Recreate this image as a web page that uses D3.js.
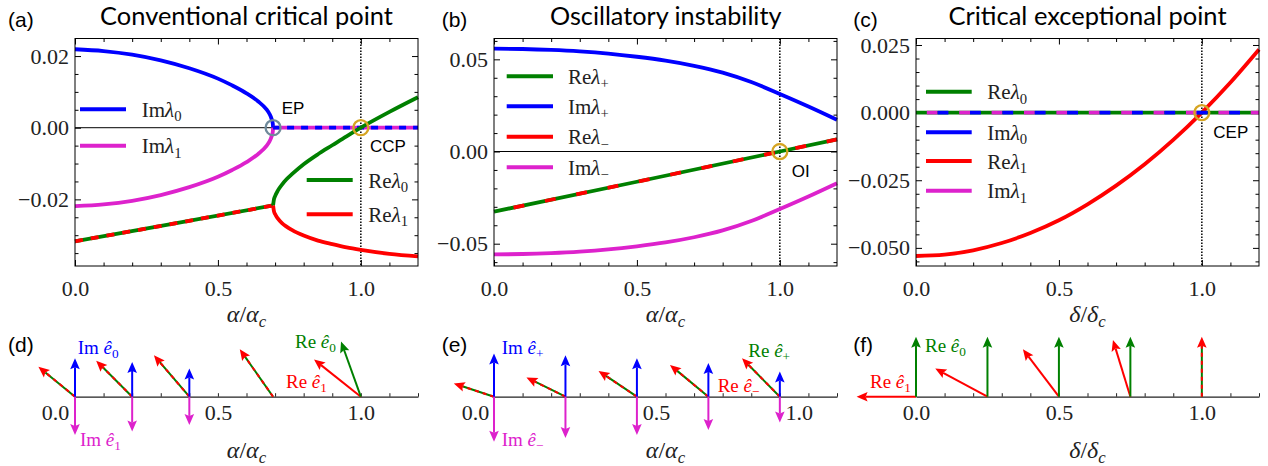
<!DOCTYPE html>
<html><head><meta charset="utf-8">
<script src="https://cdn.jsdelivr.net/npm/d3@7"></script>
<style>body{margin:0;background:#fff}svg{display:block}
.serif{font-family:"Liberation Serif","DejaVu Serif",serif}
.sans{font-family:"Liberation Sans",Arial,sans-serif}
.ttl{font-family:Lato,"Open Sans",sans-serif}
</style>
</head><body>
<svg id="c" width="1268" height="466"></svg>
<script>
// ---------------- DATA ----------------
const xMajorTicks = [0, 0.5, 1.0];
const xTickLabels = ["0.0", "0.5", "1.0"];
const xMinorTicks = [0.1, 0.2, 0.3, 0.4, 0.6, 0.7, 0.8, 0.9, 1.1];
const bottomTicks = [0, 0.1, 0.2, 0.3, 0.4, 0.5, 0.6, 0.7, 0.8, 0.9, 1.0, 1.1, 1.2];

// (a) conventional critical point
const aYTicks = [-0.02, 0, 0.02];
const aYTickLabels = ["\u22120.02", "0.00", "0.02"];
const aYMinor = [-0.035, -0.03, -0.025, -0.015, -0.01, -0.005, 0.005, 0.01, 0.015];
const aImAlpha = [0, 0.1, 0.2, 0.3, 0.4, 0.5, 0.55, 0.6, 0.64, 0.67, 0.68, 0.688, 0.692, 0.693];
const aImLam0 = [0.0219, 0.0214, 0.0204, 0.0188, 0.0166, 0.0137, 0.0118, 0.0096, 0.0074, 0.0051, 0.0039, 0.0024, 0.0011, 0.0];
const aImLam1 = [-0.0219, -0.0214, -0.0204, -0.0188, -0.0166, -0.0137, -0.0118, -0.0096, -0.0074, -0.0051, -0.0039, -0.0024, -0.0011, 0.0];
const aImZeroAlpha = [0.693, 1.2];
const aImZero = [0, 0];
const aReMergedAlpha = [0, 0.35, 0.693];
const aReMerged = [-0.0317, -0.0267, -0.0217];
const aReSplitAlpha = [0.693, 0.696, 0.70, 0.71, 0.725, 0.74, 0.76, 0.8, 0.85, 0.9, 0.95, 1.0, 1.1, 1.2];
const aReLam0 = [-0.0217, -0.0200, -0.0191, -0.0175, -0.0158, -0.0144, -0.0129, -0.0102, -0.0074, -0.0049, -0.0024, 0.0, 0.0044, 0.0085];
const aReLam1 = [-0.0217, -0.0233, -0.0241, -0.0254, -0.0267, -0.0276, -0.0286, -0.0301, -0.0315, -0.0325, -0.0334, -0.0341, -0.0352, -0.0359];
const aEP = 0.693, aCCP = 1.0;

// (b) oscillatory instability
const bYTicks = [-0.05, 0, 0.05];
const bYTickLabels = ["\u22120.05", "0.00", "0.05"];
const bYMinor = [-0.06, -0.04, -0.03, -0.02, -0.01, 0.01, 0.02, 0.03, 0.04, 0.06];
const bAlpha = [0, 0.1, 0.2, 0.3, 0.4, 0.5, 0.6, 0.7, 0.8, 0.9, 1.0, 1.1, 1.2];
const bImPlus = [0.0558, 0.0556, 0.0551, 0.0543, 0.0531, 0.0514, 0.0493, 0.0465, 0.0428, 0.0377, 0.0312, 0.0244, 0.0172];
const bImMinus = [-0.0558, -0.0556, -0.0551, -0.0543, -0.0531, -0.0514, -0.0493, -0.0465, -0.0428, -0.0377, -0.0312, -0.0244, -0.0172];
const bReAlpha = [0, 0.5, 1.0, 1.2];
const bRe = [-0.0326, -0.0164, 0.0, 0.0066];
const bOI = 1.0;

// (c) critical exceptional point
const cYTicks = [-0.05, -0.025, 0, 0.025];
const cYTickLabels = ["\u22120.050", "\u22120.025", "0.000", "0.025"];
const cYMinor = [-0.055, -0.045, -0.04, -0.035, -0.03, -0.02, -0.015, -0.01, -0.005, 0.005, 0.01, 0.015, 0.02];
const cDelta = [0, 0.1, 0.2, 0.3, 0.4, 0.5, 0.6, 0.7, 0.8, 0.9, 1.0, 1.1, 1.2];
const cReLam1 = [-0.0530, -0.0525, -0.0509, -0.0482, -0.0445, -0.0398, -0.0339, -0.0270, -0.0191, -0.0101, 0.0, 0.0111, 0.0233];
const cZeroDelta = [0, 1.2];
const cZero = [0, 0];
const cCEP = 1.0;

// (d) eigenvectors, conventional critical point
const dAlpha = [0, 0.2, 0.4, 0.693, 1.0];
const dReE0 = [[-0.61, 0.50], [-0.60, 0.60], [-0.59, 0.69], [-0.555, 0.79], [-0.33, 0.92]];
const dReE1 = [[-0.61, 0.50], [-0.60, 0.60], [-0.59, 0.69], [-0.555, 0.79], [-0.78, 0.62]];
const dImE0 = [0.64, 0.58, 0.47, 0, 0];
const dImE1 = [-0.64, -0.58, -0.47, 0, 0];
const dTickShift = [-20, 0, 0];

// (e) eigenvectors, oscillatory instability
const eAlpha = [0, 0.25, 0.5, 0.75, 1.0];
const eReEPlus = [[-0.67, 0.22], [-0.65, 0.32], [-0.64, 0.43], [-0.64, 0.53], [-0.63, 0.64]];
const eReEMinus = [[-0.67, 0.22], [-0.65, 0.32], [-0.64, 0.43], [-0.64, 0.53], [-0.63, 0.64]];
const eImEPlus = [0.72, 0.69, 0.64, 0.56, 0.42];
const eImEMinus = [-0.75, -0.69, -0.64, -0.555, -0.43];
const eTickShift = [-19, 19, 19];

// (f) eigenvectors, critical exceptional point
const fDelta = [0, 0.25, 0.5, 0.75, 1.0];
const fReE0 = [[0, 1], [0, 1], [0, 1], [0, 1], [0, 1]];
const fReE1 = [[-0.99, 0], [-0.87, 0.47], [-0.60, 0.79], [-0.29, 0.945], [0, 1]];
const fTickShift = [0, 0, 0];

// ---------------- STYLE ----------------
const COL = {green: "#008000", red: "#ff0000", blue: "#0000ff", mag: "#dd22cc", ep: "#6f8a9b", gold: "#d6a522"};
const LW = 3.8;
const TOP = 38.5, BOT = 266, AXY = 396.7;

const svg = d3.select("#c");

function fitText(t, target) {
  const w = t.node().getComputedTextLength();
  const fs = parseFloat(t.style("font-size"));
  t.style("font-size", (fs * target / w) + "px");
}

function panelLabel(txt, x, y) {
  svg.append("text").attr("class", "sans").attr("x", x).attr("y", y)
    .style("font-size", "21px").attr("fill", "#000").text(txt);
}

function lamLabel(g, x, y, pre, sub) {
  const fs = 21;
  const t = g.append("text").attr("class", "serif").attr("x", x).attr("y", y)
    .style("font-size", fs + "px").attr("fill", "#222");
  t.append("tspan").text(pre);
  t.append("tspan").style("font-style", "italic").text("\u03bb");
  t.append("tspan").style("font-size", (fs * 0.7) + "px").attr("dy", fs * 0.22).text(sub);
}

function vecLabel(g, x, y, pre, sub, color) {
  const fs = 19;
  const t = g.append("text").attr("class", "serif").attr("x", x).attr("y", y)
    .style("font-size", fs + "px").attr("fill", color);
  t.append("tspan").text(pre + " ");
  t.append("tspan").style("font-style", "italic").text("\u00ea");
  t.append("tspan").style("font-size", (fs * 0.7) + "px").attr("dy", fs * 0.22).text(sub);
}

function xLabel(g, cx, y, sym) {
  const fs = 24;
  const t = g.append("text").attr("class", "serif").attr("x", cx).attr("y", y)
    .style("font-size", fs + "px").attr("text-anchor", "middle").attr("fill", "#222");
  t.append("tspan").style("font-style", "italic").text(sym);
  t.append("tspan").text("/");
  t.append("tspan").style("font-style", "italic").text(sym);
  t.append("tspan").style("font-style", "italic").style("font-size", (fs * 0.7) + "px").attr("dy", fs * 0.22).text("c");
}

function styleAxis(sel) {
  sel.attr("font-family", null);
  sel.select(".domain").remove();
  sel.selectAll("line").attr("stroke", "#000").attr("stroke-width", 1);
  sel.selectAll("text").attr("class", "serif").style("font-size", "22px").attr("fill", "#222");
}

function topPanel(cfg) {
  const x = d3.scaleLinear().domain([0, 1.2]).range([cfg.left, cfg.right]);
  const y = d3.scaleLinear().domain(cfg.yDomain).range([BOT, TOP]);
  const g = svg.append("g");
  const mk = (axis, tr) => g.append("g").attr("transform", tr).call(axis).call(styleAxis);
  mk(d3.axisBottom(x).tickValues(xMinorTicks).tickSize(-3.5).tickFormat(""), `translate(0,${BOT})`);
  mk(d3.axisBottom(x).tickValues(xMajorTicks).tickSize(-6).tickPadding(14).tickFormat((d, i) => xTickLabels[i]), `translate(0,${BOT})`);
  mk(d3.axisTop(x).tickValues(xMinorTicks).tickSize(-3.5).tickFormat(""), `translate(0,${TOP})`);
  mk(d3.axisTop(x).tickValues(xMajorTicks).tickSize(-6).tickFormat(""), `translate(0,${TOP})`);
  mk(d3.axisLeft(y).tickValues(cfg.yMinor).tickSize(-3.5).tickFormat(""), `translate(${cfg.left},0)`);
  mk(d3.axisLeft(y).tickValues(cfg.yTicks).tickSize(-6).tickPadding(6).tickFormat((d, i) => cfg.yTickLabels[i]), `translate(${cfg.left},0)`);
  mk(d3.axisRight(y).tickValues(cfg.yMinor).tickSize(-3.5).tickFormat(""), `translate(${cfg.right},0)`);
  mk(d3.axisRight(y).tickValues(cfg.yTicks).tickSize(-6).tickFormat(""), `translate(${cfg.right},0)`);
  g.append("line").attr("x1", x(1.0)).attr("x2", x(1.0)).attr("y1", TOP).attr("y2", BOT)
    .attr("stroke", "#000").attr("stroke-width", 1.5).attr("stroke-dasharray", "1.5 1.5");
  const line = (xs, ys) => d3.line().x((d, i) => x(xs[i])).y((d, i) => y(ys[i])).curve(d3.curveMonotoneX)(xs);
  const path = (xs, ys, color, dash, offset) => {
    const p = g.append("path").attr("d", line(xs, ys)).attr("fill", "none").attr("stroke", color)
      .attr("stroke-width", LW);
    if (dash) p.attr("stroke-dasharray", dash).attr("stroke-dashoffset", offset || 0);
    return p;
  };
  const frame = () => g.append("rect").attr("x", cfg.left).attr("y", TOP).attr("width", cfg.right - cfg.left)
    .attr("height", BOT - TOP).attr("fill", "none").attr("stroke", "#000").attr("stroke-width", 1);
  const circle = (xv, color) => g.append("circle").attr("cx", x(xv)).attr("cy", y(0)).attr("r", 7.5)
    .attr("fill", "none").attr("stroke", color).attr("stroke-width", 2.3);
  const legLine = (x1, x2, yy, color) => g.append("line").attr("x1", x1).attr("x2", x2).attr("y1", yy).attr("y2", yy)
    .attr("stroke", color).attr("stroke-width", 4);
  const note = (xx, yy, txt) => g.append("text").attr("class", "sans").attr("x", xx).attr("y", yy)
    .style("font-size", "17px").attr("fill", "#000").text(txt);
  return {x, y, g, path, frame, circle, legLine, note};
}

function title(txt, cx, target) {
  const t = svg.append("text").attr("class", "ttl").attr("x", cx).attr("y", 25).attr("text-anchor", "middle")
    .style("font-size", "25px").attr("fill", "#000").text(txt);
  fitText(t, target);
}

// ---------------- TOP PANELS ----------------
// (a)
{
  const P = topPanel({left: 75, right: 418, yDomain: [-0.0386, 0.0249], yTicks: aYTicks, yTickLabels: aYTickLabels, yMinor: aYMinor});
  const {x, y, g} = P;
  g.append("line").attr("x1", x(0)).attr("x2", x(aEP)).attr("y1", y(0)).attr("y2", y(0)).attr("stroke", "#000").attr("stroke-width", 1);
  P.path(aImAlpha, aImLam0, COL.blue);
  P.path(aImAlpha, aImLam1, COL.mag);
  P.path(aImZeroAlpha, aImZero, COL.mag);
  P.path(aImZeroAlpha, aImZero, COL.blue, "7 7", 0);
  P.path(aReMergedAlpha, aReMerged, COL.green);
  P.path(aReMergedAlpha, aReMerged, COL.red, "8 8", 0);
  P.path(aReSplitAlpha, aReLam0, COL.green);
  P.path(aReSplitAlpha, aReLam1, COL.red);
  P.circle(aEP, COL.ep);
  P.circle(aCCP, COL.gold);
  P.frame();
  P.legLine(80, 126, 109.3, COL.blue); lamLabel(g, 141.7, 116.8, "Im", "0");
  P.legLine(80, 126, 145.7, COL.mag); lamLabel(g, 141.7, 153.2, "Im", "1");
  P.legLine(306.7, 352.7, 180, COL.green); lamLabel(g, 368.3, 187.5, "Re", "0");
  P.legLine(306.7, 352.7, 214.3, COL.red); lamLabel(g, 368.3, 221.8, "Re", "1");
  P.note(281.7, 113.5, "EP");
  P.note(370, 151.7, "CCP");
  xLabel(g, 246.5, 322, "\u03b1");
  title("Conventional critical point", 246.5, 293);
  panelLabel("(a)", 8, 27);
}
// (b)
{
  const P = topPanel({left: 494, right: 837, yDomain: [-0.0621, 0.0613], yTicks: bYTicks, yTickLabels: bYTickLabels, yMinor: bYMinor});
  const {x, y, g} = P;
  g.append("line").attr("x1", x(0)).attr("x2", x(1.2)).attr("y1", y(0)).attr("y2", y(0)).attr("stroke", "#000").attr("stroke-width", 1);
  P.path(bAlpha, bImPlus, COL.blue);
  P.path(bAlpha, bImMinus, COL.mag);
  P.path(bReAlpha, bRe, COL.green);
  P.path(bReAlpha, bRe, COL.red, "11 21", -20);
  P.circle(bOI, COL.gold);
  P.frame();
  P.legLine(506.7, 553, 76.3, COL.green); lamLabel(g, 568, 83.8, "Re", "+");
  P.legLine(506.7, 553, 106.3, COL.blue); lamLabel(g, 568, 113.8, "Im", "+");
  P.legLine(506.7, 553, 136.7, COL.red); lamLabel(g, 568, 144.2, "Re", "\u2212");
  P.legLine(506.7, 553, 167.3, COL.mag); lamLabel(g, 568, 174.8, "Im", "\u2212");
  P.note(791.7, 176.7, "OI");
  xLabel(g, 665.5, 322, "\u03b1");
  title("Oscillatory instability", 665.7, 231.7);
  panelLabel("(b)", 441.7, 27);
}
// (c)
{
  const P = topPanel({left: 916, right: 1259, yDomain: [-0.0567, 0.0274], yTicks: cYTicks, yTickLabels: cYTickLabels, yMinor: cYMinor});
  const {x, y, g} = P;
  P.path(cDelta, cReLam1, COL.red);
  P.path(cZeroDelta, cZero, COL.green);
  P.path(cZeroDelta, cZero, COL.mag, "10.8 21.6", 21.6);
  P.path(cZeroDelta, cZero, COL.blue, "10.8 21.6", 10.8);
  P.circle(cCEP, COL.gold);
  P.frame();
  P.legLine(926, 971.7, 91.7, COL.green); lamLabel(g, 987.3, 99.2, "Re", "0");
  P.legLine(926, 971.7, 132.3, COL.blue); lamLabel(g, 987.3, 139.8, "Im", "0");
  P.legLine(926, 971.7, 161, COL.red); lamLabel(g, 987.3, 168.5, "Re", "1");
  P.legLine(926, 971.7, 190.7, COL.mag); lamLabel(g, 987.3, 198.2, "Im", "1");
  P.note(1213.3, 138, "CEP");
  xLabel(g, 1087.5, 322, "\u03b4");
  title("Critical exceptional point", 1087.5, 278.3);
  panelLabel("(c)", 853.3, 27);
}

// ---------------- BOTTOM PANELS ----------------
const vecLen = d3.scaleLinear().domain([0, 1]).range([0, 60]);

function arrow(g, x0, y0, x1, y1, shaft, head, dashColor) {
  const dx = x1 - x0, dy = y1 - y0, L = Math.hypot(dx, dy);
  if (L < 1) return;
  const ux = dx / L, uy = dy / L, px = -uy, py = ux;
  const hl = 11, hw = 4.8, notch = 2;
  const bx = x1 - ux * hl, by = y1 - uy * hl;
  const sx = bx + ux * notch, sy = by + uy * notch;
  g.append("line").attr("x1", x0).attr("y1", y0).attr("x2", sx).attr("y2", sy)
    .attr("stroke", shaft).attr("stroke-width", 2);
  if (dashColor) g.append("line").attr("x1", x0).attr("y1", y0).attr("x2", sx).attr("y2", sy)
    .attr("stroke", dashColor).attr("stroke-width", 2).attr("stroke-dasharray", "4 4");
  g.append("polygon").attr("points", [[x1, y1], [bx + px * hw, by + py * hw], [sx, sy], [bx - px * hw, by - py * hw]].map(p => p.join(",")).join(" "))
    .attr("fill", head);
}

function bottomPanel(left, right, shifts) {
  const x = d3.scaleLinear().domain([0, 1.2]).range([left, right]);
  const g = svg.append("g");
  const ax = g.append("g").attr("transform", `translate(0,${AXY})`)
    .call(d3.axisBottom(x).tickValues(bottomTicks).tickSize(-3.5).tickSizeOuter(0).tickFormat(""));
  ax.select(".domain").attr("stroke", "#222").attr("stroke-width", 1.2);
  ax.selectAll("line").attr("stroke", "#222");
  const lab = g.append("g").attr("transform", `translate(0,${AXY})`)
    .call(d3.axisBottom(x).tickValues(xMajorTicks).tickSize(0).tickPadding(8).tickFormat((d, i) => xTickLabels[i]));
  lab.attr("font-family", null);
  lab.select(".domain").remove();
  lab.selectAll("text").attr("class", "serif").style("font-size", "22px").attr("fill", "#222")
    .attr("dy", null).attr("y", 23.3).attr("x", (d, i) => shifts[i]);
  return {x, g};
}

function drawVectors(P, pos, re0, re1, im0, im1, c0, c1) {
  pos.forEach((a, i) => {
    const bx = P.x(a);
    const same = re0[i][0] === re1[i][0] && re0[i][1] === re1[i][1];
    if (same) {
      arrow(P.g, bx, AXY, bx + vecLen(re0[i][0]), AXY - vecLen(re0[i][1]), COL.green, COL.red, COL.red);
    } else {
      arrow(P.g, bx, AXY, bx + vecLen(re1[i][0]), AXY - vecLen(re1[i][1]), c1, c1);
      arrow(P.g, bx, AXY, bx + vecLen(re0[i][0]), AXY - vecLen(re0[i][1]), c0, c0);
    }
    if (im0 && im0[i] !== 0) arrow(P.g, bx, AXY, bx, AXY - vecLen(im0[i]), COL.blue, COL.blue);
    if (im1 && im1[i] !== 0) arrow(P.g, bx, AXY, bx, AXY - vecLen(im1[i]), COL.mag, COL.mag);
  });
}

// (d)
{
  const P = bottomPanel(75, 418, dTickShift);
  drawVectors(P, dAlpha, dReE0, dReE1, dImE0, dImE1, COL.green, COL.red);
  vecLabel(P.g, 77.7, 354.3, "Im", "0", COL.blue);
  vecLabel(P.g, 80, 446, "Im", "1", COL.mag);
  vecLabel(P.g, 295, 348, "Re", "0", COL.green);
  vecLabel(P.g, 286, 388, "Re", "1", COL.red);
  xLabel(P.g, 246.5, 458, "\u03b1");
  panelLabel("(d)", 8, 352);
}
// (e)
{
  const P = bottomPanel(494, 837, eTickShift);
  drawVectors(P, eAlpha, eReEPlus, eReEMinus, eImEPlus, eImEMinus, COL.green, COL.red);
  vecLabel(P.g, 501.7, 354.3, "Im", "+", COL.blue);
  vecLabel(P.g, 501.7, 446, "Im", "\u2212", COL.mag);
  vecLabel(P.g, 748.3, 356.7, "Re", "+", COL.green);
  vecLabel(P.g, 717.7, 391.7, "Re", "\u2212", COL.red);
  xLabel(P.g, 665.5, 458, "\u03b1");
  panelLabel("(e)", 441.7, 352);
}
// (f)
{
  const P = bottomPanel(916, 1259, fTickShift);
  drawVectors(P, fDelta, fReE0, fReE1, null, null, COL.green, COL.red);
  vecLabel(P.g, 925, 351.7, "Re", "0", COL.green);
  vecLabel(P.g, 870, 388.3, "Re", "1", COL.red);
  xLabel(P.g, 1087.5, 458, "\u03b4");
  panelLabel("(f)", 853.3, 352);
}
</script>
</body></html>
